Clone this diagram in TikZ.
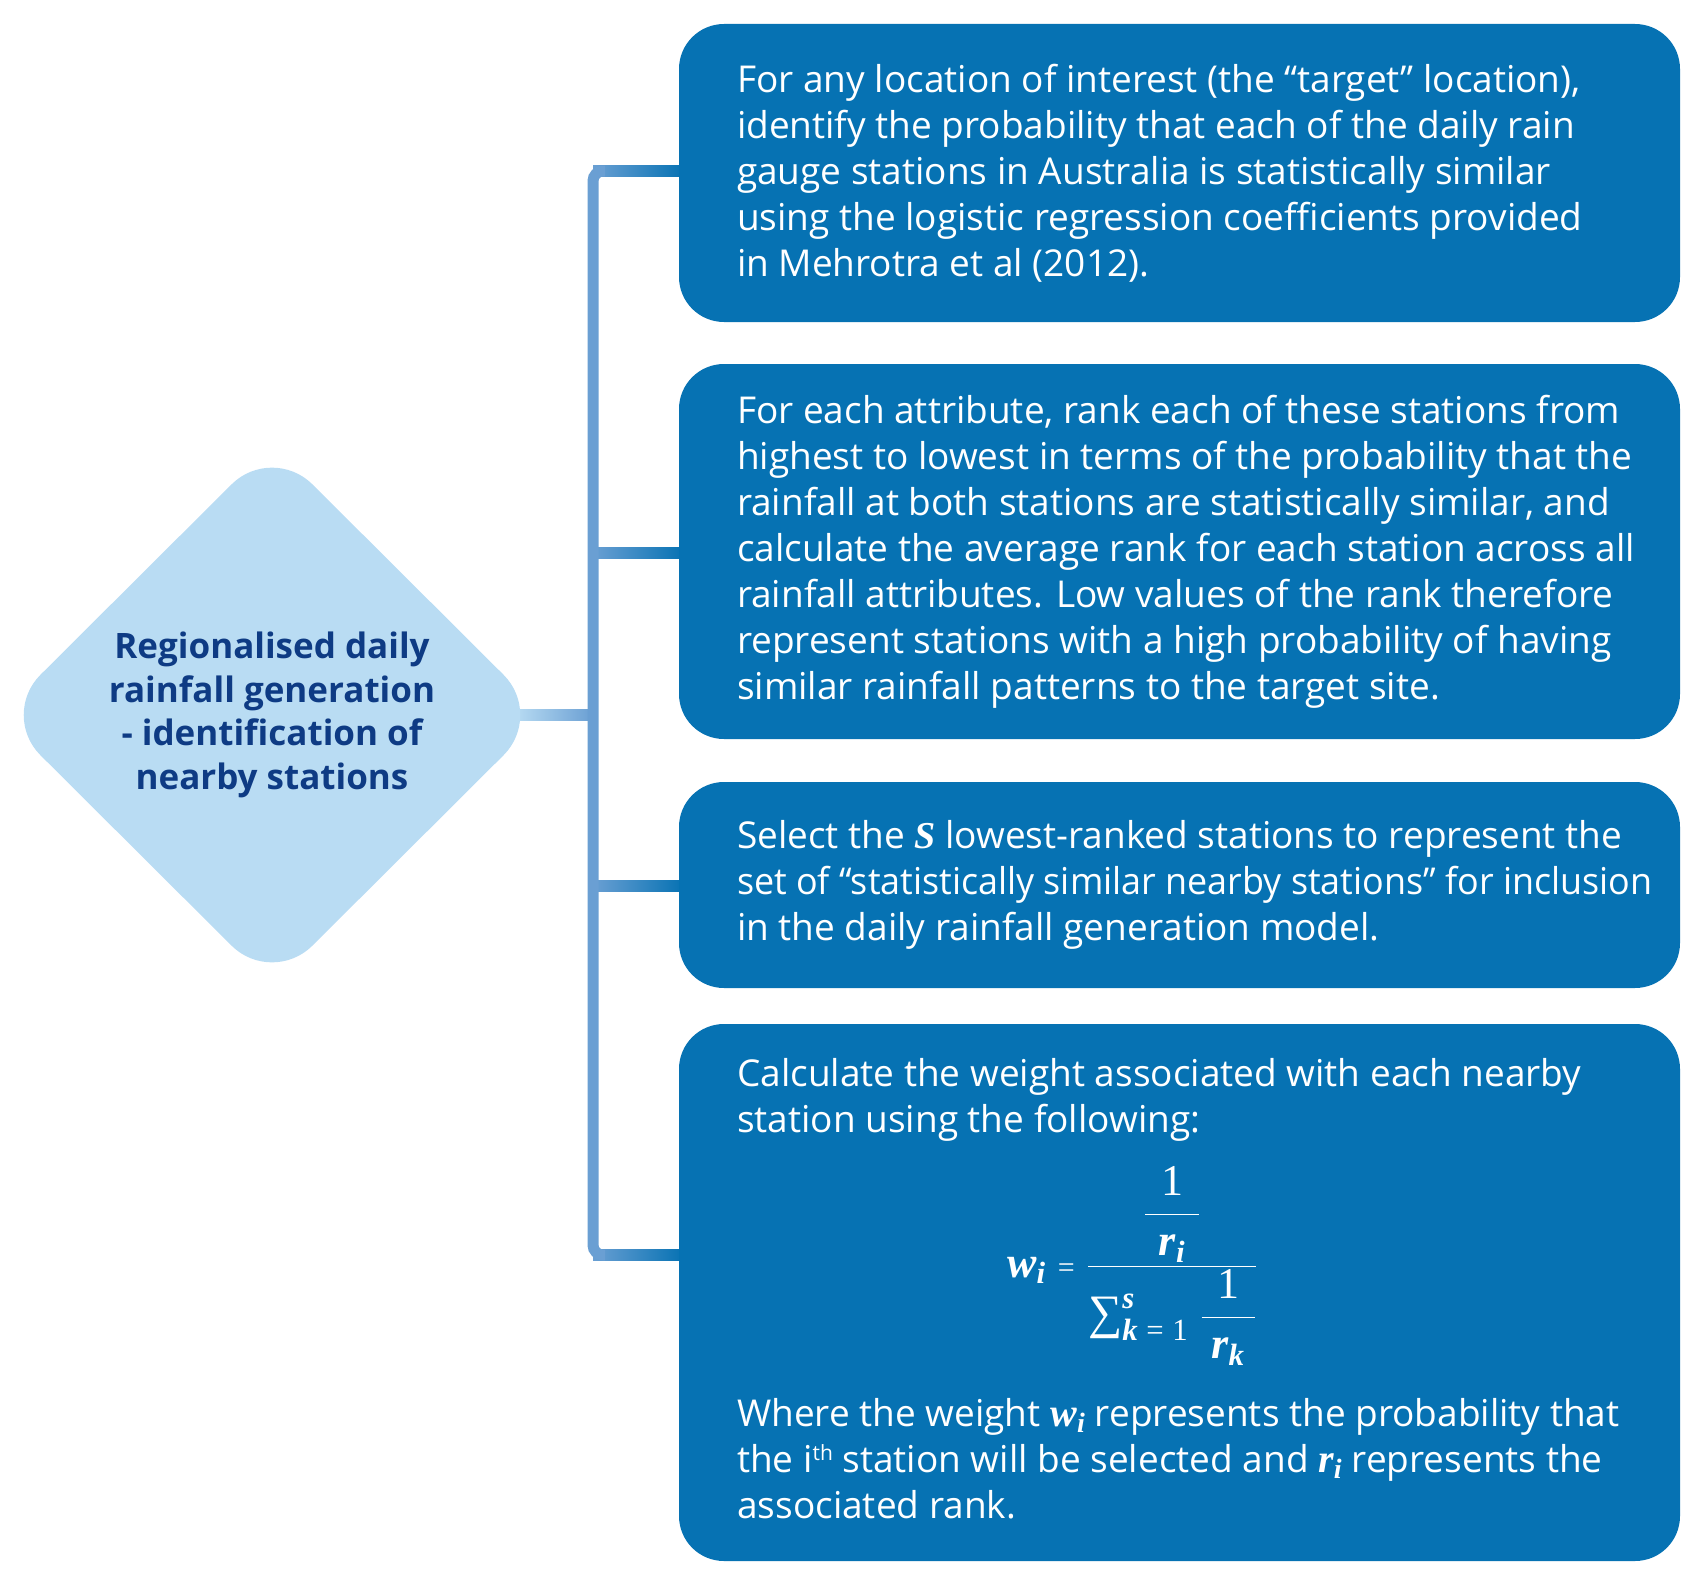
\documentclass[tikz,border=0pt]{standalone}
\usepackage{fix-cm}
\usepackage{amsmath}
\usepackage{graphicx}
\usepackage{fontspec}
\setmainfont{Open Sans}
\newfontfamily\tnr{Liberation Serif}
\newfontfamily\dfont{Open Sans}
\usetikzlibrary{shapes.geometric,backgrounds}
\definecolor{boxc}{HTML}{0672B3}
\definecolor{lnc}{HTML}{6A9FD3}
\definecolor{diac}{HTML}{B9DCF3}
\definecolor{dtext}{HTML}{0E3B84}
\newcommand{\mv}[1]{\text{\tnr\bfseries\itshape #1}}
\newcommand{\mn}[1]{\text{\tnr #1}}
\begin{document}
\begin{tikzpicture}[x=1pt,y=-1pt,
  bx/.style={fill=boxc, rounded corners=45, inner sep=0pt, draw=none},
  txt/.style={text=white, align=left, inner sep=0pt, font=\fontsize{37}{46}\selectfont},
  diam/.style={shape=diamond, aspect=1, fill=diac, inner sep=0pt,
    minimum width=544, minimum height=542, rounded corners=57,
    text=dtext, align=center, font=\dfont\bfseries\fontsize{35}{43.5}\selectfont},
  conn/.style={draw=lnc, line width=11pt}]
\useasboundingbox (0,0) rectangle (1700,1592);

% left diamond
\node[diam] (d) at (272,715) {Regionalised daily\\rainfall generation\\- identification of\\nearby stations};

% boxes
\node[bx, minimum width=1001, minimum height=298] (b1) at (1179.5,173) {};
\node[bx, minimum width=1001, minimum height=375] (b2) at (1179.5,551.5) {};
\node[bx, minimum width=1001, minimum height=206] (b3) at (1179.5,885) {};
\node[bx, minimum width=1001, minimum height=537] (b4) at (1179.5,1292.5) {};

% texts
\node[txt, anchor=west] (t1) at ([xshift=58]b1.west) {For any location of interest (the “target” location),\\identify the probability that each of the daily rain\\gauge stations in Australia is statistically similar\\using the logistic regression coefficients provided\\in Mehrotra et al (2012).};
\node[txt, anchor=west] (t2) at ([xshift=58]b2.west) {For each attribute, rank each of these stations from\\highest to lowest in terms of the probability that the\\rainfall at both stations are statistically similar, and\\calculate the average rank for each station across all\\rainfall attributes. Low values of the rank therefore\\represent stations with a high probability of having\\similar rainfall patterns to the target site.};
\node[txt, anchor=west] (t3) at ([xshift=58]b3.west) {Select the {\tnr\bfseries\itshape\fontsize{38}{46}\selectfont S} lowest-ranked stations to represent the\\\scalebox{0.97}[1]{set of “statistically similar nearby stations” for inclusion}\\in the daily rainfall generation model.};
\node[txt, anchor=base west] (t4a) at (737,1132) {Calculate the weight associated with each nearby\\station using the following:};
\node[txt, anchor=base west] (t4b) at (737,1518) {Where the weight {\fontsize{40}{46}\selectfont$\mv{w}_{\mv{i}}$} represents the probability that\\the i\raisebox{12pt}{\fontsize{21}{21}\selectfont th} station will be selected and {\fontsize{40}{46}\selectfont$\mv{r}_{\mv{i}}$} represents the\\associated rank.};
\node[txt, anchor=west, font=\fontsize{44}{50}\selectfont] (f) at (1007,1266)
  {$\mv{w}_{\mv{i}}\mathrel{\text{\tnr\fontsize{30}{30}\selectfont =}}\dfrac{\dfrac{\mn{1}}{\hspace{14pt}\mv{r}_{\mv{i}}\hspace{14pt}}}{\text{\tnr\fontsize{48}{48}\selectfont ∑}^{\mv{s}}_{\mv{k}\;\mn{=}\;\mn{1}}\;\dfrac{\mn{1}}{\hspace{10pt}\mv{r}_{\mv{k}}\hspace{10pt}}}$};

% connectors
\coordinate (j1) at (593,171);
\coordinate (j2) at (593,553);
\coordinate (j3) at (593,886);
\coordinate (j4) at (593,1255);
\coordinate (jd) at (593,715);
\coordinate (e1) at (b1.west |- j1);
\coordinate (e2) at (b2.west |- j2);
\coordinate (e3) at (b3.west |- j3);
\coordinate (e4) at (b4.west |- j4);
\coordinate (ds) at ([xshift=-30]d.east);
\begin{pgfonlayer}{background}
  \shade[left color=diac, right color=lnc] ([yshift=5.5]ds) rectangle ([yshift=-5.5]jd);
  \shade[left color=lnc, right color=boxc] ([yshift=5.5]j1) rectangle ([yshift=-5.5,xshift=5]e1);
  \shade[left color=lnc, right color=boxc] ([yshift=5.5]j2) rectangle ([yshift=-5.5,xshift=5]e2);
  \shade[left color=lnc, right color=boxc] ([yshift=5.5]j3) rectangle ([yshift=-5.5,xshift=5]e3);
  \shade[left color=lnc, right color=boxc] ([yshift=5.5]j4) rectangle ([yshift=-5.5,xshift=5]e4);
  \draw[conn, rounded corners=10] ([xshift=12]j1) -- (j1) -- (j4) -- ([xshift=12]j4);
\end{pgfonlayer}
\end{tikzpicture}
\end{document}
